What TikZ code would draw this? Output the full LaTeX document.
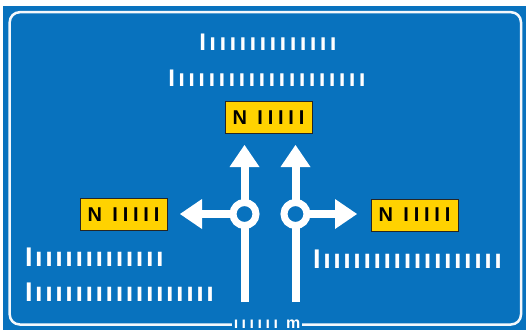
\documentclass[tikz,border=0pt]{standalone}
\usepackage{fontspec}
\setmainfont{Liberation Sans}
\newfontfamily\fuentebarra{Liberation Sans}[LetterSpace=14]
\newfontfamily\fuentebaja{Liberation Sans}[LetterSpace=9.5]
\newfontfamily\fuentedist{Liberation Sans}[LetterSpace=22]
\newfontfamily\fuentecaja{Liberation Sans}[LetterSpace=24]
\usetikzlibrary{arrows.meta,calc}
\definecolor{cazul}{HTML}{0872BE}
\definecolor{camarillo}{HTML}{FFD200}
\definecolor{cborde}{HTML}{F4F8FC}
\tikzset{
  placa/.style={fill=cazul},
  marco/.style={draw=cborde,line width=2.5pt,rounded corners=10pt},
  barras/.style={text=white,inner sep=0pt,
                 font=\fuentebarra\bfseries\fontsize{24pt}{24pt}\selectfont},
  barrasb/.style={barras,font=\fuentebaja\bfseries\fontsize{27pt}{27pt}\selectfont},
  caja/.style={draw=black!85,line width=0.8pt,fill=camarillo,inner sep=0pt,
               minimum width=87pt,minimum height=32pt,
               font=\fuentecaja\bfseries\fontsize{20pt}{20pt}\selectfont},
  tronco/.style={draw=white,line width=8pt},
  anillo/.style={draw=white,line width=7pt},
  flecha/.style={tronco,-{Triangle[width=30pt,length=22pt,line width=0pt]}},
}

\begin{document}
\begin{tikzpicture}[x=1pt,y=-1pt]
\useasboundingbox (0,0) rectangle (526,330);

% ---------------- placa ----------------
\fill[placa] (3,6) rectangle (526,330);
\draw[marco] (9.7,12.2) rectangle (521,324.5);

% ---------------- textos ----------------
\node[barras,anchor=base] (sup1) at (268,50) {Iııııııııııııı};
\node[barras,anchor=base] (sup2) at (267,86) {Iııııııııııııııııııı};
\node[barrasb,anchor=base west] (izq1) at (25,266) {Iııııııııııııı};
\node[barrasb,anchor=base west] (izq2) at (25,301) {Iıııııııııııııııııı};
\node[barrasb,anchor=base west] (der1) at (313,268) {Iıııııııııııııııııı};
\node[barras,fill=cazul,anchor=base,inner sep=2pt,
      font=\fuentedist\bfseries\fontsize{16pt}{16pt}\selectfont] (dist) at (267,328) {ıııııı m};

% ---------------- destinos ----------------
\node[caja] (cajaS) at (268.5,117.5) {N IIIII};
\node[caja] (cajaI) at (123.5,214.5) {N IIIII};
\node[caja] (cajaD) at (414.5,215) {N IIIII};

% ---------------- flechas ----------------
\coordinate (anilloI) at (244.5,214);
\coordinate (anilloD) at (295.5,214);
\coordinate (baseI) at (244.5,302);
\coordinate (baseD) at (295.5,302);
\coordinate (puntaI) at (244.5,145);
\coordinate (puntaD) at (295.5,145);
\coordinate (puntaO) at (180,214);
\coordinate (puntaE) at (357,214);

\draw[tronco] (baseI) -- ([yshift=-11.5pt]anilloI);
\draw[tronco] (baseD) -- ([yshift=-11.5pt]anilloD);
\draw[anillo] (anilloI) circle (11.5pt);
\draw[anillo] (anilloD) circle (11.5pt);
\draw[flecha] ([yshift=11.5pt]anilloI) -- (puntaI);
\draw[flecha] ([yshift=11.5pt]anilloD) -- (puntaD);
\draw[flecha] ([xshift=-11.5pt]anilloI) -- (puntaO);
\draw[flecha] ([xshift=11.5pt]anilloD) -- (puntaE);

\end{tikzpicture}
\end{document}
